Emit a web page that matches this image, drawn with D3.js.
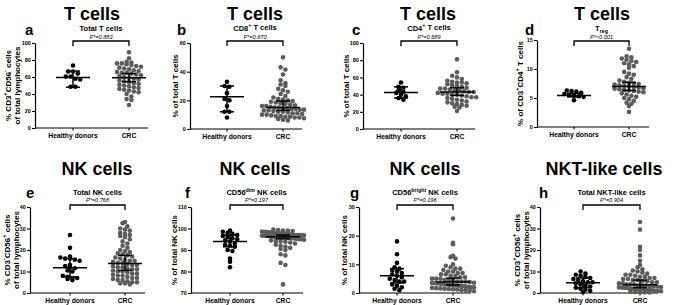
<!DOCTYPE html>
<html><head><meta charset="utf-8">
<script src="https://cdn.jsdelivr.net/npm/d3@7"></script>
<style>body{margin:0;background:#fff}svg{display:block}text{font-family:"Liberation Sans",Arial,sans-serif}</style>
</head><body><svg id="c" width="677" height="305"></svg>
<script>
// ---------- DATA ----------
const groups = ["Healthy donors", "CRC"];

const aHealthy = [73.5, 66.5, 66.5, 64, 60.5, 60.5, 58, 57, 48.5, 48.5];
const aCRC = [89, 82, 78, 77, 76, 76, 75, 74, 73, 72, 71, 70, 69, 68, 67, 66, 65, 65, 64, 63, 62, 61, 60, 59, 58, 57, 56, 55, 54, 53, 52, 51, 50, 49, 48, 47, 46, 45, 44, 43, 42, 40, 37, 34, 33, 27];
const aStats = [[59.5, 48, 67], [59, 54.5, 64]];

const bHealthy = [33, 30, 29.5, 25, 21, 20, 16, 12, 12, 8];
const bCRC = [50, 43, 41.5, 38, 34, 32, 31, 30, 28, 27, 26, 24.5, 23, 22, 21, 20.5, 20, 19.5, 19, 18.5, 18, 17.5, 17, 16.5, 16, 16, 15.5, 15, 15, 14.5, 14.5, 14, 14, 13.5, 13.5, 13, 13, 12.5, 12, 12, 11.5, 11, 11, 10.5, 10, 10, 9.5, 9, 9, 8.5, 8.5, 8, 8, 7.5, 7, 6.5, 6];
const bStats = [[22.5, 12, 30], [15, 13, 19.5]];

const cHealthy = [54, 49, 48, 45, 43, 42, 40, 38, 36, 34];
const cCRC = [81, 66, 62, 60, 58, 56, 55, 54, 54, 53, 52, 51, 50, 49, 48, 47, 47, 46, 45, 45, 44, 43, 43, 42, 41, 41, 40, 40, 39, 38, 37, 37, 36, 35, 34, 33, 32, 31, 30, 29, 28, 27, 26, 25, 21];
const cStats = [[42.5, 36, 49], [43, 39, 48]];

const dHealthy = [6.3, 6.2, 6.1, 5.9, 5.7, 5.5, 5.4, 5.3, 5.2, 4.6];
const dCRC = [13.5, 12.2, 12, 11.8, 11.6, 11.4, 11.2, 11, 10.8, 10.5, 10.2, 9.5, 9.2, 9, 8.6, 8.3, 8, 7.8, 7.6, 7.5, 7.4, 7.3, 7.2, 7.1, 7, 6.9, 6.8, 6.7, 6.6, 6.5, 6.4, 6.3, 6.2, 6.1, 6, 5.8, 5.6, 5.4, 5.2, 5, 4.8, 4.5, 4.2, 4, 3.6, 2.6];
const dStats = [[5.45, 5.2, 5.8], [7.0, 6.3, 7.7]];

const eHealthy = [27, 21, 17, 16.5, 16, 16, 15.5, 15, 13, 12.5, 12, 11.5, 10.5, 10, 8, 7.5, 7, 7, 6.5, 6];
const eCRC = [33, 32.5, 31, 30, 29.5, 29, 28, 27.5, 27, 26.5, 26, 25, 24, 23, 22, 21, 20, 19.5, 19, 18.5, 18, 17.5, 17, 16.5, 16, 15.5, 15, 15, 14.5, 14, 14, 13.5, 13, 13, 12.5, 12, 12, 11.5, 11, 11, 10.5, 10, 10, 9.5, 9, 9, 8.5, 8, 8, 7.5, 7, 7, 6.5, 6, 6, 5.5, 5, 5, 4.5, 4.5, 4];
const eStats = [[11.8, 7.5, 16], [13.7, 10.5, 17.5]];

const fHealthy = [99, 98.5, 98, 97.5, 97, 96.5, 96, 95.5, 95, 94.5, 94, 93, 92.5, 92, 91.5, 90, 89.5, 86, 84.5, 82];
const fCRC = [99.5, 99.3, 99, 99, 98.8, 98.6, 98.5, 98.3, 98.2, 98, 98, 97.8, 97.6, 97.5, 97.4, 97.2, 97, 97, 96.9, 96.8, 96.7, 96.6, 96.5, 96.4, 96.3, 96.2, 96.1, 96, 96, 95.9, 95.8, 95.6, 95.5, 95.4, 95.2, 95, 95, 94.8, 94.5, 94.2, 94, 93.8, 93.5, 93, 92.5, 92, 91.5, 91, 90.5, 90, 88, 87.5, 84, 83, 74];
const fStats = [[94, 91.5, 97], [96.2, 95.2, 97]];

const gHealthy = [18, 13.5, 10.5, 9, 8.5, 8, 7.5, 7, 6.5, 6, 5.5, 5, 4.5, 4, 4, 3, 2.5, 2, 1.5, 1];
const gCRC = [26, 17.5, 17, 13, 12.5, 12, 10, 9.5, 9, 8.5, 8.5, 8, 7.5, 7.5, 7, 7, 6.5, 6.5, 6, 6, 5.5, 5.5, 5, 5, 5, 4.5, 4.5, 4.5, 4, 4, 4, 3.8, 3.6, 3.5, 3.4, 3.3, 3.2, 3, 3, 2.8, 2.7, 2.6, 2.5, 2.4, 2.3, 2.2, 2, 2, 1.8, 1.7, 1.6, 1.5, 1.4, 1.3, 1.2, 1, 1, 0.8, 0.6];
const gStats = [[6, 3.5, 8.5], [3.8, 2.8, 5.2]];

const hHealthy = [10, 9, 8.5, 8, 7.5, 7, 6.5, 6, 5.5, 5, 5, 4.5, 4, 3.5, 3, 2.5, 2, 1.5, 1, 0.5];
const hCRC = [33, 29.5, 21.5, 20, 17.5, 15, 13, 12, 11, 10.5, 10, 9.5, 9, 8.5, 8.5, 8, 7.5, 7.5, 7, 7, 6.5, 6.5, 6, 6, 5.5, 5.5, 5, 5, 4.5, 4.5, 4, 4, 4, 3.5, 3.5, 3.5, 3, 3, 3, 2.8, 2.6, 2.5, 2.4, 2.2, 2, 2, 1.8, 1.6, 1.5, 1.4, 1.2, 1, 1, 0.8, 0.6, 0.5, 0.4, 0.3, 0.2];
const hStats = [[4.8, 2.5, 7], [3.8, 2.5, 6]];

const letters = ["a", "b", "c", "d", "e", "f", "g", "h"];
const titles = ["T cells", "T cells", "T cells", "T cells", "NK cells", "NK cells", "NK cells", "NKT-like cells"];
const subtitles = ["Total T cells", "CD8^{+} T cells", "CD4^{+} T cells", "T_{reg}", "Total NK cells", "CD56^{dim} NK cells", "CD56^{bright} NK cells", "Total NKT-like cells"];
const pvalues = ["P*=0.883", "P*=0.670", "P*=0.689", "P*<0.001", "P*=0.768", "P*=0.197", "P*=0.196", "P*=0.904"];
const ylabels = [
  ["% CD3^{+}CD56^{-} cells", "of total lymphocytes"],
  ["% of total T cells"], ["% of total T cells"],
  ["% of CD3^{+}CD4^{+} T cells"],
  ["% CD3^{-}CD56^{+} cells", "of total lymphocytes"],
  ["% of total NK cells"], ["% of total NK cells"],
  ["% CD3^{+}CD56^{+} cells", "of total lymphocytes"]
];
const yDomains = [[0, 100], [0, 60], [0, 100], [0, 15], [0, 40], [70, 110], [0, 30], [0, 40]];
const yTicks = [[0, 20, 40, 60, 80, 100], [0, 20, 40, 60], [0, 20, 40, 60, 80, 100], [0, 5, 10, 15],
  [0, 10, 20, 30, 40], [70, 80, 90, 100, 110], [0, 10, 20, 30], [0, 10, 20, 30, 40]];
const healthyData = [aHealthy, bHealthy, cHealthy, dHealthy, eHealthy, fHealthy, gHealthy, hHealthy];
const crcData = [aCRC, bCRC, cCRC, dCRC, eCRC, fCRC, gCRC, hCRC];
const stats = [aStats, bStats, cStats, dStats, eStats, fStats, gStats, hStats];

// ---------- LAYOUT ----------
const layout = [
  {x0: 35, top: 43, bot: 128, hx: 38, cx: 94, len: 113, tx: 92, lx: 25, yl: [11, 20]},
  {x0: 190, top: 43, bot: 129, hx: 37, cx: 93, len: 112, tx: 255, lx: 177, yl: [178]},
  {x0: 363, top: 43, bot: 129, hx: 38, cx: 94, len: 112, tx: 428, lx: 352, yl: [349]},
  {x0: 537, top: 40, bot: 127, hx: 37, cx: 92, len: 112, tx: 602, lx: 525, yl: [523]},
  {x0: 30, top: 207, bot: 293, hx: 40, cx: 95, len: 115, tx: 97, lx: 26, yl: [10, 19]},
  {x0: 191, top: 207, bot: 293, hx: 39, cx: 92, len: 112, tx: 255, lx: 185, yl: [177]},
  {x0: 359, top: 207, bot: 293, hx: 38, cx: 94, len: 112, tx: 425, lx: 350, yl: [347]},
  {x0: 540, top: 207, bot: 293, hx: 43, cx: 100, len: 118, tx: 604, lx: 539, yl: [520, 529]}
];
const topRow = {title: 19.5, letter: 35, sub: 30.5, p: 38.5, br: 41};
const botRow = {title: 175, letter: 198, sub: 195, p: 202, br: 205};

const svg = d3.select("#c");

function rich(sel, str) {
  const re = /(\^|_)\{([^}]*)\}/g;
  let last = 0, m, shift = 0;
  const parts = [];
  while ((m = re.exec(str)) !== null) {
    if (m.index > last) parts.push({t: str.slice(last, m.index), k: ""});
    parts.push({t: m[2], k: m[1]});
    last = re.lastIndex;
  }
  if (last < str.length) parts.push({t: str.slice(last), k: ""});
  parts.forEach(p => {
    const ts = sel.append("tspan").text(p.t);
    const target = p.k === "^" ? -0.45 : p.k === "_" ? 0.3 : 0;
    const dy = target - shift;
    if (p.k) ts.attr("font-size", "70%");
    if (dy !== 0) ts.attr("dy", (p.k ? dy / 0.7 : dy).toFixed(3) + "em");
    shift = target;
  });
}

function swarm(vals, y, cx, d, maxHalf) {
  const pts = vals.map(v => ({v, y: y(v)})).sort((a, b) => a.y - b.y);
  const bins = d3.groups(pts, p => Math.round(p.y / (d * 0.9)));
  const out = [];
  bins.forEach(([k, arr]) => {
    const n = arr.length;
    let sp = d;
    if ((n - 1) * sp / 2 > maxHalf) sp = 2 * maxHalf / (n - 1);
    arr.forEach((p, i) => out.push({x: cx + (i - (n - 1) / 2) * sp, y: p.y}));
  });
  return out;
}

layout.forEach((L, i) => {
  const row = i < 4 ? topRow : botRow;
  const g = svg.append("g");
  const y = d3.scaleLinear().domain(yDomains[i]).range([L.bot, L.top]);
  const x = d3.scalePoint().domain(groups).range([L.x0 + L.hx, L.x0 + L.cx]);

  g.append("text").attr("x", L.tx).attr("y", row.title).attr("text-anchor", "middle")
    .attr("font-size", 18).attr("font-weight", "bold").text(titles[i]);
  g.append("text").attr("x", L.lx).attr("y", row.letter)
    .attr("font-size", 15).attr("font-weight", "bold").text(letters[i]);
  const mid = (x(groups[0]) + x(groups[1])) / 2;
  const st = g.append("text").attr("x", mid).attr("y", row.sub).attr("text-anchor", "middle")
    .attr("font-size", 7.5).attr("font-weight", "bold");
  rich(st, subtitles[i]);
  g.append("text").attr("x", mid).attr("y", row.p).attr("text-anchor", "middle")
    .attr("font-size", 5.6).attr("font-style", "italic").text(pvalues[i]);
  g.append("path").attr("fill", "none").attr("stroke", "#000").attr("stroke-width", 1.3)
    .attr("d", `M${x(groups[0])},${row.br + 5}V${row.br}H${x(groups[1])}V${row.br + 5}`);

  const ya = g.append("g").attr("transform", `translate(${L.x0},0)`)
    .call(d3.axisLeft(y).tickValues(yTicks[i]).tickSize(3).tickPadding(1.2).tickSizeOuter(0));
  ya.select(".domain").attr("stroke-width", 1.2);
  ya.selectAll(".tick line").attr("stroke-width", 1.1);
  ya.selectAll("text").attr("font-size", 5.4).attr("font-weight", "bold")
    .attr("font-family", '"Liberation Sans",Arial,sans-serif');
  const xa = d3.scaleLinear().domain([0, 1]).range([L.x0, L.x0 + L.len]);
  g.append("line").attr("x1", xa(0)).attr("x2", xa(1)).attr("y1", L.bot).attr("y2", L.bot)
    .attr("stroke", "#000").attr("stroke-width", 1.2);
  groups.forEach(gr => {
    g.append("line").attr("x1", x(gr)).attr("x2", x(gr)).attr("y1", L.bot).attr("y2", L.bot + 2.5)
      .attr("stroke", "#000").attr("stroke-width", 1.1);
    g.append("text").attr("x", x(gr)).attr("y", L.bot + 10).attr("text-anchor", "middle")
      .attr("font-size", 6.8).attr("font-weight", "bold").text(gr);
  });

  const yl = ylabels[i];
  const ymid = (L.top + L.bot) / 2;
  yl.forEach((s, k) => {
    const t = g.append("text").attr("transform", `translate(${L.yl[k]},${ymid}) rotate(-90)`)
      .attr("text-anchor", "middle").attr("font-size", 8).attr("font-weight", "bold");
    rich(t, s);
  });

  const r = 2.3;
  const hp = swarm(healthyData[i], y, x(groups[0]), 4.8, 16);
  const cp = swarm(crcData[i], y, x(groups[1]), 4.8, 21);
  g.append("g").selectAll("circle").data(hp).join("circle")
    .attr("cx", d => d.x).attr("cy", d => d.y).attr("r", r).attr("fill", "#000");
  g.append("g").selectAll("circle").data(cp).join("circle")
    .attr("cx", d => d.x).attr("cy", d => d.y).attr("r", r).attr("fill", "#5c5c5c");

  stats[i].forEach((s, k) => {
    const cx = x(groups[k]);
    const [m, lo, hi] = s;
    const eb = g.append("g").attr("stroke", "#000").attr("stroke-width", 1.5).attr("fill", "none");
    eb.append("line").attr("x1", cx - 17).attr("x2", cx + 17).attr("y1", y(m)).attr("y2", y(m));
    eb.append("line").attr("x1", cx).attr("x2", cx).attr("y1", y(lo)).attr("y2", y(hi));
    eb.append("line").attr("x1", cx - 7).attr("x2", cx + 7).attr("y1", y(lo)).attr("y2", y(lo));
    eb.append("line").attr("x1", cx - 7).attr("x2", cx + 7).attr("y1", y(hi)).attr("y2", y(hi));
  });
});
</script></body></html>
